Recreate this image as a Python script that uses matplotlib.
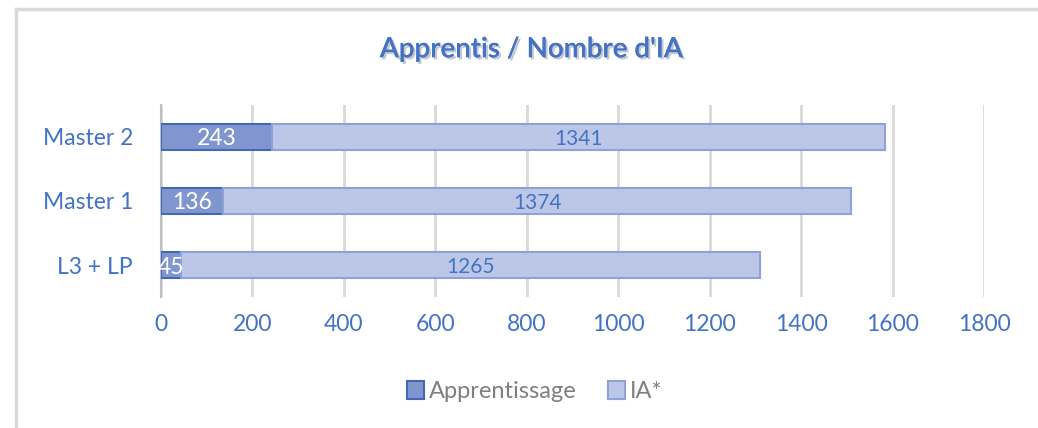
import matplotlib
matplotlib.use("Agg")
import matplotlib.pyplot as plt
from matplotlib.lines import Line2D
import matplotlib.patheffects as pe

plt.rcParams['font.family'] = ['Lato', 'DejaVu Sans']

categories = ['L3 + LP', 'Master 1', 'Master 2']
apprentissage = [45, 136, 243]
ia = [1265, 1374, 1341]
xticks = [0, 200, 400, 600, 800, 1000, 1200, 1400, 1600, 1800]

blue_text = '#4472c4'

fig = plt.figure(figsize=(10.38, 4.28), dpi=100)
ax = fig.add_axes([0.155, 0.306, 0.793, 0.449])

y = range(len(categories))
b1 = ax.barh(y, apprentissage, height=0.41, color='#8196cf', edgecolor='#4468b8',
             linewidth=1.5, label='Apprentissage', zorder=3)
b2 = ax.barh(y, ia, left=apprentissage, height=0.41, color='#bcc7e8', edgecolor='#8fa2d8',
             linewidth=1.5, label='IA*', zorder=3)

lab1 = ax.bar_label(b1, labels=[str(v) for v in apprentissage], label_type='center',
                    color='white', fontsize=16.5)
lab2 = ax.bar_label(b2, labels=[str(v) for v in ia], label_type='center',
                    color=blue_text, fontsize=15)
for t in lab1 + lab2:
    t.set_va('center_baseline')

ax.set_xlim(0, 1800)
ax.set_ylim(-0.5, 2.5)
ax.set_xticks(xticks)
ax.set_yticks(list(y))
ax.set_yticklabels(categories)
ax.tick_params(axis='both', length=0, colors=blue_text, labelsize=16.5)
ax.tick_params(axis='x', pad=12)
ax.tick_params(axis='y', pad=20)
ax.xaxis.grid(True, color='#d9d9d9', linewidth=2, zorder=0)
for s in ['top', 'right', 'bottom']:
    ax.spines[s].set_visible(False)
ax.spines['left'].set_color('#bfbfbf')
ax.spines['left'].set_linewidth(1.5)

fig.text(0.512, 0.885, "Apprentis / Nombre d'IA", ha='center', va='center',
         fontsize=20, color=blue_text, fontweight='semibold',
         path_effects=[pe.withSimplePatchShadow(offset=(1.5, -1.5), alpha=0.25),
                       pe.Normal()])

leg = fig.legend(loc='center', bbox_to_anchor=(0.515, 0.085), ncol=2, frameon=False,
                 fontsize=17, handlelength=0.75, handleheight=0.75, handletextpad=0.2,
                 columnspacing=1.3)
for t in leg.get_texts():
    t.set_color('#7f7f7f')

# light frame around chart area (top and left)
fig.add_artist(Line2D([0.015, 1.0], [0.98, 0.98], color='#d9d9d9', linewidth=2.5))
fig.add_artist(Line2D([0.015, 0.015], [0.0, 0.98], color='#d9d9d9', linewidth=2.5))

fig.savefig('out.png', dpi=100)
